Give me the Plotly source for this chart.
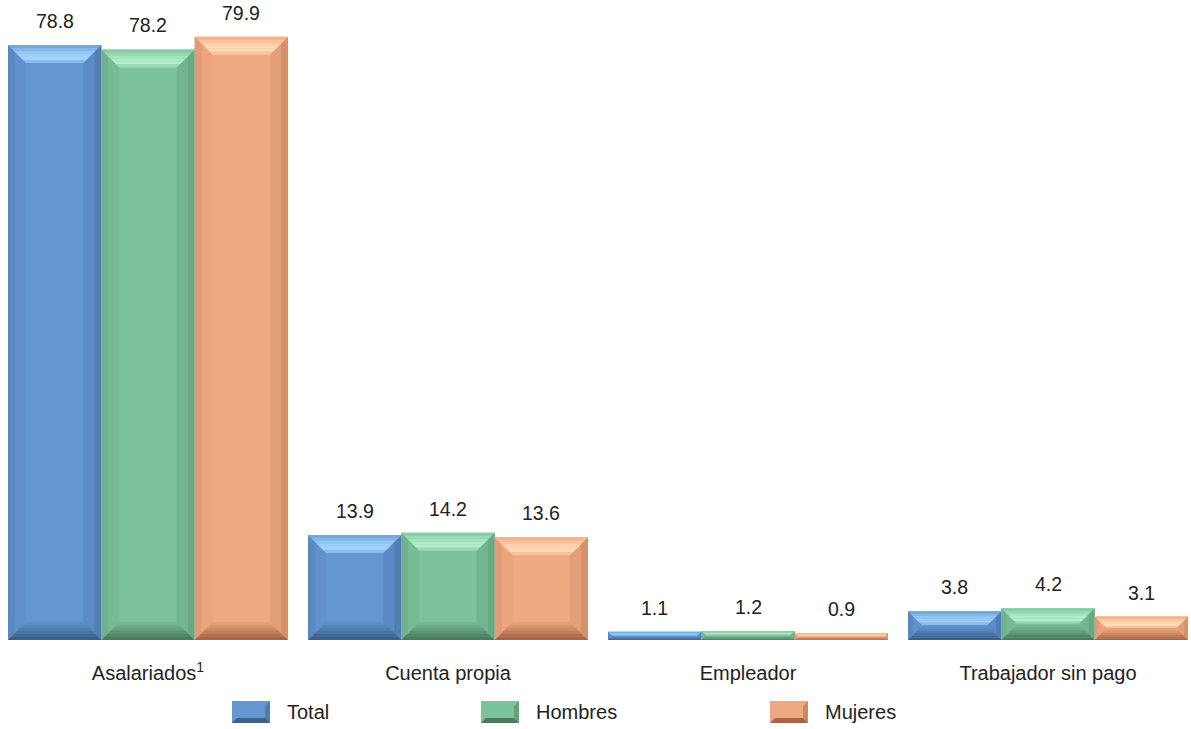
import plotly.graph_objects as go

categories = ["Asalariados<sup>1</sup>", "Cuenta propia", "Empleador", "Trabajador sin pago"]
series_names = ["Total", "Hombres", "Mujeres"]
total = [78.8, 13.9, 1.1, 3.8]
hombres = [78.2, 14.2, 1.2, 4.2]
mujeres = [79.9, 13.6, 0.9, 3.1]
series_values = [total, hombres, mujeres]

# styles
face = ["#6596cf", "#7cc29a", "#efa982"]
# top bevel: outer edge -> inner edge
top_grad = [["#76a8dc", "#84b6ea", "#92c4f4", "#9ecefb", "#a2d2fd", "#8abcee"],
            ["#8acca6", "#98d8b3", "#a6e4c0", "#b0ecc9", "#b4eecc", "#9cdab7"],
            ["#f3b38d", "#f7c29c", "#fbd0aa", "#fed9b4", "#ffdcb8", "#f8c49e"]]
# bottom bevel: inner edge -> outer (bottom) edge
bot_grad = [["#5f8ec6", "#5886bc", "#507db1", "#4873a5", "#406998", "#3a608c"],
            ["#74b893", "#6cad89", "#63a17e", "#5a9472", "#518767", "#497b5d"],
            ["#e3a07a", "#d9956f", "#cd8964", "#c07d59", "#b3714f", "#a66646"]]
# sides: outer strip, inner strip
left_c = [["#5a88c0", "#6190ca"], ["#6fb38d", "#77bc95"], ["#e19c76", "#eaa47e"]]
right_c = [["#527eb4", "#5c8ac4"], ["#68a884", "#72b58f"], ["#d6916b", "#e39f79"]]

FONT = "Liberation Sans, Arial, sans-serif"
TXT = "#222222"

W, H = 1191, 729
MB = 89
plot_h = H - MB
YMAX = 84.75
x0r = -148 / 300
x1r = x0r + W / 300
px_x = 300.0
px_y = plot_h / YMAX

gap = 20 / 300
bw = (1 - gap) / 3

fig = go.Figure()
shapes = []
annotations = []

def path(pts):
    return "M " + " L ".join(f"{x},{y}" for x, y in pts) + " Z"

for si, (name, vals) in enumerate(zip(series_names, series_values)):
    offset = -0.5 + gap / 2 + si * bw
    fig.add_trace(go.Bar(
        x=list(range(len(categories))), y=vals, name=name,
        width=bw, offset=offset,
        marker=dict(color=face[si], line=dict(width=0)),
        showlegend=False, hoverinfo="y+name",
    ))
    for ci, v in enumerate(vals):
        xa = ci + offset
        xb = xa + bw
        hpx = v * px_y
        d = min(18.0, hpx * 0.48)
        dx = d / px_x
        dy = d / px_y
        common = dict(type="path", xref="x", yref="y", line=dict(width=0), layer="above")
        # sides (two strips each)
        for k, (t0, t1) in enumerate([(0, 0.4), (0.4, 1.0)]):
            shapes.append(dict(path=path([(xa + t0 * dx, t0 * dy), (xa + t0 * dx, v - t0 * dy),
                                          (xa + t1 * dx, v - t1 * dy), (xa + t1 * dx, t1 * dy)]),
                               fillcolor=left_c[si][k], **common))
            shapes.append(dict(path=path([(xb - t0 * dx, t0 * dy), (xb - t0 * dx, v - t0 * dy),
                                          (xb - t1 * dx, v - t1 * dy), (xb - t1 * dx, t1 * dy)]),
                               fillcolor=right_c[si][k], **common))
        n = len(top_grad[si])
        for k in range(n):
            t0, t1 = k / n, (k + 1) / n
            shapes.append(dict(path=path([(xa + t0 * dx, v - t0 * dy), (xb - t0 * dx, v - t0 * dy),
                                          (xb - t1 * dx, v - t1 * dy), (xa + t1 * dx, v - t1 * dy)]),
                               fillcolor=top_grad[si][k], **common))
        n = len(bot_grad[si])
        for k in range(n):
            t0, t1 = 1 - k / n, 1 - (k + 1) / n
            shapes.append(dict(path=path([(xa + t0 * dx, t0 * dy), (xb - t0 * dx, t0 * dy),
                                          (xb - t1 * dx, t1 * dy), (xa + t1 * dx, t1 * dy)]),
                               fillcolor=bot_grad[si][k], **common))
        annotations.append(dict(
            x=(xa + xb) / 2, y=v, xref="x", yref="y", text=f"{v:.1f}",
            showarrow=False, yshift=24, yanchor="middle",
            font=dict(family=FONT, size=19.5, color=TXT),
        ))

# legend (manual, large bevelled swatches)
legend_x = [232, 481, 770]
for si, name in enumerate(series_names):
    lx0 = legend_x[si]
    lx1 = lx0 + 38
    ly0, ly1 = 701, 723
    def P(px, py):
        return (px / W, (plot_h - py) / plot_h)
    shapes.append(dict(type="rect", xref="paper", yref="paper",
                       x0=lx0 / W, x1=lx1 / W, y0=(plot_h - ly1) / plot_h, y1=(plot_h - ly0) / plot_h,
                       fillcolor=face[si], line=dict(width=0)))
    e = 5
    shapes.append(dict(type="path", xref="paper", yref="paper", line=dict(width=0),
                       path=path([P(lx1, ly0), P(lx1, ly1), P(lx1 - e, ly1 - e), P(lx1 - e, ly0 + e)]),
                       fillcolor=bot_grad[si][2]))
    shapes.append(dict(type="path", xref="paper", yref="paper", line=dict(width=0),
                       path=path([P(lx0, ly1), P(lx1, ly1), P(lx1 - e, ly1 - e), P(lx0 + e, ly1 - e)]),
                       fillcolor=bot_grad[si][5]))
    annotations.append(dict(
        x=(lx1 + 15) / W, y=(plot_h - 712) / plot_h, xref="paper", yref="paper",
        text=name, showarrow=False, xanchor="left", yanchor="middle",
        font=dict(family=FONT, size=20, color=TXT),
    ))

fig.update_layout(
    width=W, height=H,
    margin=dict(l=0, r=0, t=0, b=MB),
    paper_bgcolor="white", plot_bgcolor="white",
    barmode="overlay",
    shapes=shapes, annotations=annotations,
    xaxis=dict(range=[x0r, x1r], tickvals=list(range(len(categories))), ticktext=categories,
               showgrid=False, zeroline=False, showline=False, ticks="",
               ticklabelstandoff=19,
               tickfont=dict(family=FONT, size=20, color=TXT)),
    yaxis=dict(range=[0, YMAX], visible=False, showgrid=False, zeroline=False),
    showlegend=False,
)

fig.write_html("out.html", config={"displayModeBar": False},
               post_script="document.body.style.margin='0';document.body.style.overflow='hidden';")
